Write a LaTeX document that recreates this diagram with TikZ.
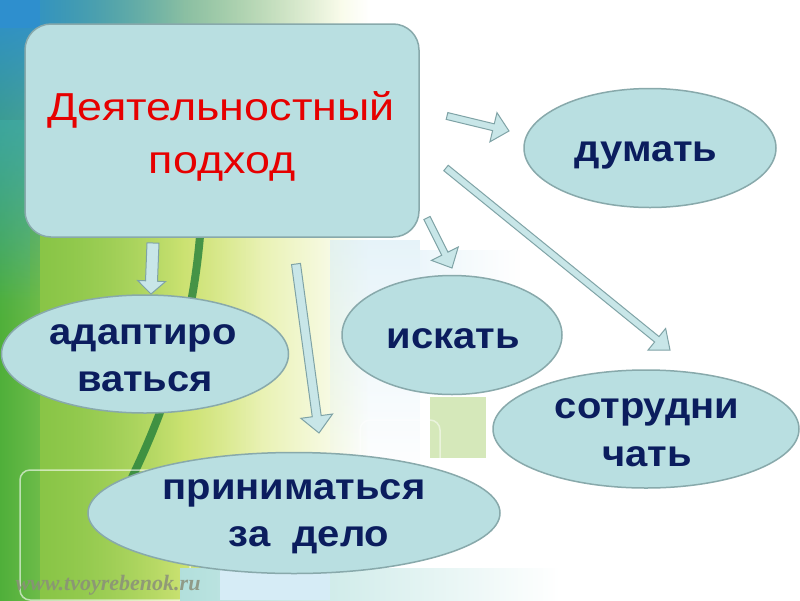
\documentclass[tikz,border=0pt]{standalone}
\usepackage{fontspec}
\setmainfont{Liberation Sans}
\newfontfamily\titlefont[FakeStretch=1.15]{Liberation Sans}
\newfontfamily\boldwide[FakeStretch=1.08]{Liberation Sans}
\newfontfamily\wmfont{Liberation Serif}
\usetikzlibrary{calc,shapes.geometric,fadings}
\definecolor{boxFill}{HTML}{B9DFE1}
\definecolor{boxLine}{HTML}{88A9AB}
\definecolor{arrFill}{HTML}{C8E6E8}
\definecolor{arrLine}{HTML}{7FA3A6}
\definecolor{navy}{HTML}{0B1D5E}
\definecolor{titleRed}{HTML}{E60000}
\definecolor{bgGreen}{HTML}{4FAF3A}
\definecolor{bgLime}{HTML}{9CCC45}
\definecolor{bgYellow}{HTML}{D9E87E}
\definecolor{bgBlue}{HTML}{2E8FCF}
\definecolor{bgTeal}{HTML}{3FB0A8}
\definecolor{bgDark}{HTML}{23803A}
\definecolor{bgPale}{HTML}{D6ECF6}
\definecolor{bgSq}{HTML}{B9D98C}
\definecolor{wmGray}{HTML}{8A8F7A}
\tikzset{
  mainbox/.style={draw=boxLine, fill=boxFill, line width=1.5pt, rounded corners=26pt,
    rectangle, minimum width=394pt, minimum height=213pt, inner sep=0pt},
  titletext/.style={text=titleRed, anchor=base, inner sep=0pt, font=\titlefont\fontsize{39}{39}\selectfont},
  ell/.style={draw=boxLine, fill=boxFill, line width=1.5pt, ellipse, inner sep=0pt},
  etext/.style={text=navy, anchor=base, inner sep=0pt, font=\boldwide\bfseries\fontsize{37}{37}\selectfont},
  arrowshape/.style={draw=arrLine, fill=arrFill, line width=1pt, line join=miter},
  watermark/.style={text=wmGray, opacity=0.85, font=\wmfont\bfseries\itshape\fontsize{22}{22}\selectfont, anchor=base west}
}
% block arrow: start, tip, shaft half width, head half width, head length
\newcommand\blockarrow[5]{%
  \path[arrowshape] let \p1=($(#2)-(#1)$), \n1={atan2(\y1,\x1)}, \n2={veclen(\x1,\y1)-#5} in
    ($(#1)+({\n1+90}:#3)$) -- ($(#1)+(\n1:\n2)+({\n1+90}:#3)$) --
    ($(#1)+(\n1:\n2)+({\n1+90}:#4)$) -- (#2) --
    ($(#1)+(\n1:\n2)+({\n1-90}:#4)$) -- ($(#1)+(\n1:\n2)+({\n1-90}:#3)$) --
    ($(#1)+({\n1-90}:#3)$) -- cycle;}
\begin{document}
\begin{tikzpicture}[x=1pt,y=-1pt]
\useasboundingbox (0,0) rectangle (800,600);
% ---------- background ----------
\fill[white] (0,0) rectangle (800,600);
\shade[left color=bgGreen, right color=white, middle color=bgYellow] (0,0) rectangle (370,600);
\fill[bgLime, path fading=east, opacity=0.6] (40,230) rectangle (260,600);
\fill[bgBlue, path fading=south] (0,0) rectangle (40,300);
\fill[bgBlue, path fading=east] (0,0) rectangle (340,28);
\fill[bgTeal, opacity=0.5, path fading=south] (0,120) rectangle (30,320);
\draw[bgDark, line width=8pt, opacity=0.8] (200,236) .. controls (192,330) and (165,420) .. (110,520);
\fill[bgPale, opacity=0.6, path fading=south] (330,240) rectangle (420,480);
\fill[bgPale, opacity=0.45, path fading=east] (420,250) rectangle (520,330);
\fill[bgSq, opacity=0.6] (430,397) rectangle (486,458);
\draw[white, line width=1.5pt, opacity=0.6, rounded corners=10pt] (20,470) rectangle (190,600);
\draw[white, line width=1.5pt, opacity=0.5, rounded corners=10pt] (360,420) rectangle (440,480);
\shade[left color=bgTeal!40, right color=white] (180,568) rectangle (560,600);
\fill[bgPale] (220,570) rectangle (330,600);
% ---------- shapes ----------
\node[mainbox] (main) at (222,130.5) {};
\node[ell, minimum width=252pt, minimum height=119pt] (dumat) at (650,148) {};
\node[ell, minimum width=220pt, minimum height=119pt] (iskat) at (452,335) {};
\node[ell, minimum width=287pt, minimum height=118pt] (adapt) at (145,354) {};
\node[ell, minimum width=306pt, minimum height=118pt] (sotr) at (646,429) {};
\node[ell, minimum width=412pt, minimum height=121pt] (prin) at (294,513) {};
% ---------- texts ----------
\node[titletext] (mainT1) at ($(main.center)+(-1,-10)$) {Деятельностный};
\node[titletext] (mainT2) at ($(main.center)+(0,43)$) {подход};
\node[etext] (dumatT) at ($(dumat.center)+(-4,13)$) {думать};
\node[etext] (iskatT) at ($(iskat.center)+(1,13)$) {искать};
\node[etext] (adaptT1) at ($(adapt.center)+(-2,-10)$) {адаптиро};
\node[etext] (adaptT2) at ($(adapt.center)+(0,37)$) {ваться};
\node[etext] (sotrT1) at ($(sotr.center)+(1,-11)$) {сотрудни};
\node[etext] (sotrT2) at ($(sotr.center)+(1,37)$) {чать};
\node[etext] (prinT1) at ($(prin.center)+(0,-14)$) {приниматься};
\node[etext] (prinT2) at ($(prin.center)+(15,33)$) {за~~дело};
% ---------- arrows ----------
\coordinate (a1s) at (447,116); \coordinate (a1e) at (509,131);
\coordinate (a2s) at (446,168); \coordinate (a2e) at (670,350);
\coordinate (a3s) at (427,218); \coordinate (a3e) at (452,268);
\coordinate (a4s) at (153,243); \coordinate (a4e) at (151,294);
\coordinate (a5s) at (296,264); \coordinate (a5e) at (319,433);
\blockarrow{a1s}{a1e}{3.5pt}{15pt}{16}
\blockarrow{a2s}{a2e}{3.5pt}{14pt}{17}
\blockarrow{a3s}{a3e}{3.5pt}{15pt}{16}
\blockarrow{a4s}{a4e}{6pt}{14pt}{13}
\blockarrow{a5s}{a5e}{4.5pt}{16pt}{17}
% ---------- watermark ----------
\node[watermark] (wm) at (12,590) {www.tvoyrebenok.ru};
\end{tikzpicture}
\end{document}
